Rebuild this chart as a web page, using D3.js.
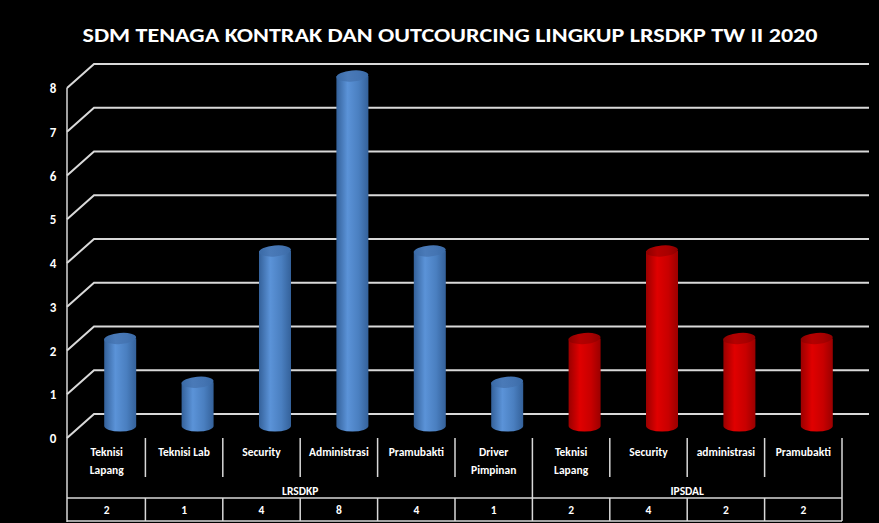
<!DOCTYPE html>
<html>
<head>
<meta charset="utf-8">
<script src="https://cdn.jsdelivr.net/npm/d3@7"></script>
<style>
  body { margin: 0; background: #000; }
  text { font-family: Carlito, "Liberation Sans Narrow", "Open Sans", sans-serif; font-weight: bold; fill: #fff; }
</style>
</head>
<body>
<div id="chart"></div>
<script>
var categories = [
  ["Teknisi", "Lapang"], ["Teknisi Lab"], ["Security"], ["Administrasi"], ["Pramubakti"],
  ["Driver", "Pimpinan"], ["Teknisi", "Lapang"], ["Security"], ["administrasi"], ["Pramubakti"]
];
var groups = ["LRSDKP", "IPSDAL"];
var groupOf = [0, 0, 0, 0, 0, 0, 1, 1, 1, 1];
var values = [2, 1, 4, 8, 4, 1, 2, 4, 2, 2];
var yTicks = [0, 1, 2, 3, 4, 5, 6, 7, 8];
var title = "SDM TENAGA KONTRAK DAN OUTCOURCING LINGKUP LRSDKP TW II 2020";

var svgWidth = 879;
var svgHeight = 523;
var depthX = 27, depthY = 24;

var svg = d3.select("#chart").append("svg")
  .attr("width", svgWidth)
  .attr("height", svgHeight)
  .style("display", "block");

svg.append("rect").attr("width", svgWidth).attr("height", svgHeight).attr("fill", "#000");

var x = d3.scaleBand().domain(d3.range(categories.length)).range([68, 842]);
var y = d3.scaleLinear().domain([0, 8]).range([438, 88]);
var bw = x.bandwidth();

var defs = svg.append("defs");
function cylGrad(id, dark, mid, light) {
  var g = defs.append("linearGradient").attr("id", id).attr("x1", 0).attr("x2", 1).attr("y1", 0).attr("y2", 0);
  g.append("stop").attr("offset", "0%").attr("stop-color", dark);
  g.append("stop").attr("offset", "35%").attr("stop-color", light);
  g.append("stop").attr("offset", "70%").attr("stop-color", mid);
  g.append("stop").attr("offset", "100%").attr("stop-color", dark);
}
cylGrad("blueBody", "#34619a", "#4a7fc0", "#5b93d8");
cylGrad("redBody", "#9a0000", "#c80000", "#e00000");
cylGrad("blueTop", "#3a6aa6", "#4474b2", "#4a7ab8");
cylGrad("redTop", "#8c0000", "#a80000", "#b40000");

// title
svg.append("text")
  .attr("x", 450)
  .attr("y", 42)
  .attr("text-anchor", "middle")
  .attr("font-size", 20)
  .attr("textLength", 735)
  .attr("lengthAdjust", "spacingAndGlyphs")
  .text(title);

// gridlines with depth
var grid = svg.append("g").attr("stroke", "#d9d9d9").attr("stroke-width", 2).attr("fill", "none");
grid.selectAll("path").data(yTicks).enter().append("path")
  .attr("d", d => `M67,${y(d)} L${67 + depthX},${y(d) - depthY} L869,${y(d) - depthY}`);

// axis line
svg.append("line").attr("x1", 67).attr("x2", 67).attr("y1", y(8)).attr("y2", 522)
  .attr("stroke", "#d9d9d9").attr("stroke-width", 1.5);

svg.selectAll(".ytick").data(yTicks).enter().append("text")
  .attr("class", "ytick")
  .attr("x", 53)
  .attr("y", d => y(d) + 5)
  .attr("text-anchor", "middle")
  .attr("font-size", 13)
  .text(d => d);

// cylinders
var ry = 5.5, rx = 16;
var bars = svg.selectAll(".bar").data(values).enter().append("g").attr("class", "bar");
bars.each(function(v, i) {
  var g = d3.select(this);
  var cx = x(i) + bw / 2 + depthX / 2;
  var yb = y(0) - depthY / 2;
  var yt = y(v) - depthY / 2;
  var red = groupOf[i] === 1;
  g.append("path")
    .attr("d", `M${cx - rx},${yt} L${cx - rx},${yb} A${rx},${ry} 0 0 0 ${cx + rx},${yb} L${cx + rx},${yt} Z`)
    .attr("fill", red ? "url(#redBody)" : "url(#blueBody)");
  g.append("ellipse")
    .attr("cx", cx).attr("cy", yt).attr("rx", rx).attr("ry", ry)
    .attr("transform", `rotate(-5,${cx},${yt})`)
    .attr("fill", red ? "url(#redTop)" : "url(#blueTop)");
});

// category table
var table = svg.append("g").attr("stroke", "#d9d9d9").attr("stroke-width", 1.5);
d3.range(1, categories.length).forEach(function(i) {
  var xx = x(i);
  var groupEdge = groupOf[i] !== groupOf[i - 1];
  table.append("line").attr("x1", xx).attr("x2", xx).attr("y1", 438).attr("y2", groupEdge ? 498 : 477);
  table.append("line").attr("x1", xx).attr("x2", xx).attr("y1", 498).attr("y2", 521);
});
table.append("line").attr("x1", 842).attr("x2", 842).attr("y1", 438).attr("y2", 521);
table.append("line").attr("x1", 67).attr("x2", 842).attr("y1", 498).attr("y2", 498);
table.append("line").attr("x1", 67).attr("x2", 842).attr("y1", 521).attr("y2", 521);

svg.selectAll(".cat").data(categories).enter().append("text")
  .attr("class", "cat")
  .attr("text-anchor", "middle")
  .attr("font-size", 11.5)
  .each(function(lines, i) {
    var t = d3.select(this);
    lines.forEach(function(l, k) {
      t.append("tspan").attr("x", x(i) + bw / 2).attr("y", 456 + k * 18).text(l);
    });
  });

groups.forEach(function(gname, gi) {
  var idx = d3.range(categories.length).filter(i => groupOf[i] === gi);
  var x0 = x(idx[0]), x1 = x(idx[idx.length - 1]) + bw;
  svg.append("text")
    .attr("x", (x0 + x1) / 2)
    .attr("y", 495)
    .attr("text-anchor", "middle")
    .attr("font-size", 11.5)
    .text(gname);
});

svg.selectAll(".val").data(values).enter().append("text")
  .attr("class", "val")
  .attr("x", (d, i) => x(i) + bw / 2)
  .attr("y", 514)
  .attr("text-anchor", "middle")
  .attr("font-size", 11.5)
  .text(d => d);
</script>
</body>
</html>
